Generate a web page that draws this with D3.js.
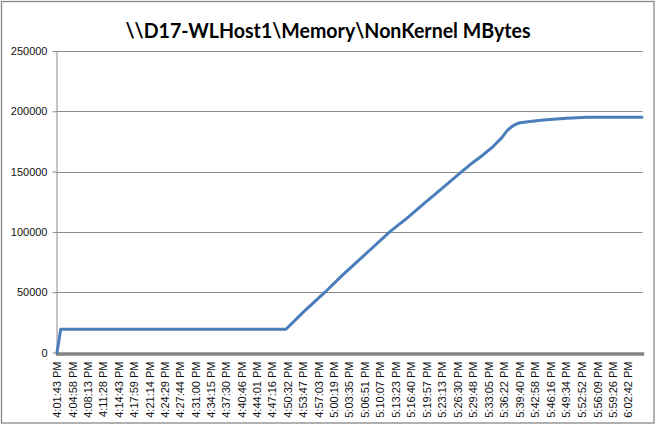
<!DOCTYPE html>
<html><head><meta charset="utf-8">
<script src="https://cdn.jsdelivr.net/npm/d3@7"></script>
<style>body{margin:0;background:#fff}svg{display:block}</style>
</head><body><svg id="c" width="656" height="425"></svg>
<script>
const chartTitle = "\\\\D17-WLHost1\\Memory\\NonKernel MBytes";

const tickLabels = [
  "4:01:43 PM","4:04:58 PM","4:08:13 PM","4:11:28 PM","4:14:43 PM","4:17:59 PM",
  "4:21:14 PM","4:24:29 PM","4:27:44 PM","4:31:00 PM","4:34:15 PM","4:37:30 PM",
  "4:40:46 PM","4:44:01 PM","4:47:16 PM","4:50:32 PM","4:53:47 PM","4:57:03 PM",
  "5:00:19 PM","5:03:35 PM","5:06:51 PM","5:10:07 PM","5:13:23 PM","5:16:40 PM",
  "5:19:57 PM","5:23:13 PM","5:26:30 PM","5:29:48 PM","5:33:05 PM","5:36:22 PM",
  "5:39:40 PM","5:42:58 PM","5:46:16 PM","5:49:34 PM","5:52:52 PM","5:56:09 PM",
  "5:59:26 PM","6:02:42 PM"
];
const axisStart = "4:01:43 PM";
const axisEnd = "6:05:40 PM";

const yTicks = [0, 50000, 100000, 150000, 200000, 250000];

const sampleTimes = [
  "4:01:43 PM","4:02:30 PM","4:20:00 PM","4:40:00 PM","4:50:14 PM","4:53:54 PM",
  "4:58:30 PM","5:02:02 PM","5:05:55 PM","5:08:02 PM","5:12:16 PM","5:15:49 PM",
  "5:19:20 PM","5:22:52 PM","5:27:28 PM","5:29:55 PM","5:32:03 PM","5:34:10 PM",
  "5:35:56 PM","5:37:00 PM","5:38:03 PM","5:39:00 PM","5:39:49 PM","5:41:56 PM",
  "5:44:45 PM","5:49:43 PM","5:53:57 PM","6:00:00 PM","6:05:40 PM"
];
const nonKernelMB = [
  0, 19300, 19300, 19300, 19300, 33500,
  50000, 63500, 77500, 85000, 100200, 111200,
  123000, 134700, 149900, 157800, 164000, 171000,
  178000, 183600, 187300, 189400, 190500, 191500,
  192800, 194200, 195000, 195100, 195100
];

function secs(s) {
  const [t, ap] = s.split(" ");
  let [h, m, sc] = t.split(":").map(Number);
  if (ap === "PM" && h !== 12) h += 12;
  return h * 3600 + m * 60 + sc;
}

const svg = d3.select("#c");
const font = "'Liberation Sans', Arial, sans-serif";

svg.append("rect").attr("x", 1.5).attr("y", 1.5).attr("width", 652.5).attr("height", 421.5)
  .attr("fill", "#fff").attr("stroke", "#878787").attr("stroke-width", 1.3);

svg.append("text").attr("x", 328).attr("y", 37.5).attr("text-anchor", "middle")
  .attr("font-family", "Lato, 'Open Sans', sans-serif").attr("font-weight", "bold")
  .attr("font-size", 20.5).attr("fill", "#000")
  .attr("textLength", 405).attr("lengthAdjust", "spacingAndGlyphs")
  .text(chartTitle);

const x = d3.scaleLinear().domain([secs(axisStart), secs(axisEnd)]).range([57, 642]);
const y = d3.scaleLinear().domain([0, 250000]).range([352.5, 51]);

// gridlines
svg.append("g").selectAll("line").data(yTicks.filter(d => d > 0)).join("line")
  .attr("x1", 56).attr("x2", 642.5)
  .attr("y1", d => Math.round(y(d)) + 0.5).attr("y2", d => Math.round(y(d)) + 0.5)
  .attr("stroke", "#8c8c8c").attr("stroke-width", 1);

// y axis
const gy = svg.append("g").attr("transform", "translate(56.5,0)")
  .call(d3.axisLeft(y).tickValues(yTicks).tickFormat(d3.format("d")).tickSize(4).tickPadding(5).tickSizeOuter(0));
gy.select(".domain").attr("stroke", "#8c8c8c");
gy.selectAll(".tick line").attr("stroke", "#8c8c8c");
gy.selectAll(".tick text").attr("font-family", font).attr("font-size", 11).attr("fill", "#111");

// x axis
const gx = svg.append("g").attr("transform", "translate(0,353.5)")
  .call(d3.axisBottom(x).tickValues(tickLabels.map(secs))
    .tickFormat((d, i) => tickLabels[i]).tickSize(0).tickSizeOuter(0));
gx.select(".domain").attr("stroke", "#848484").attr("stroke-width", 3.4).attr("stroke-linecap", "square");
gx.selectAll(".tick text")
  .attr("font-family", font).attr("font-size", 11).attr("fill", "#111")
  .attr("transform", "rotate(-90)").attr("text-anchor", "end")
  .attr("x", -8).attr("y", 0).attr("dy", "0.36em");

// series
const pts = sampleTimes.map((t, i) => [secs(t), nonKernelMB[i]]);
svg.append("path").datum(pts)
  .attr("fill", "none").attr("stroke", "#4a7ebb").attr("stroke-width", 3)
  .attr("stroke-linejoin", "round").attr("stroke-linecap", "round")
  .attr("d", d3.line().x(d => x(d[0])).y(d => y(d[1])));
</script>
</body></html>
